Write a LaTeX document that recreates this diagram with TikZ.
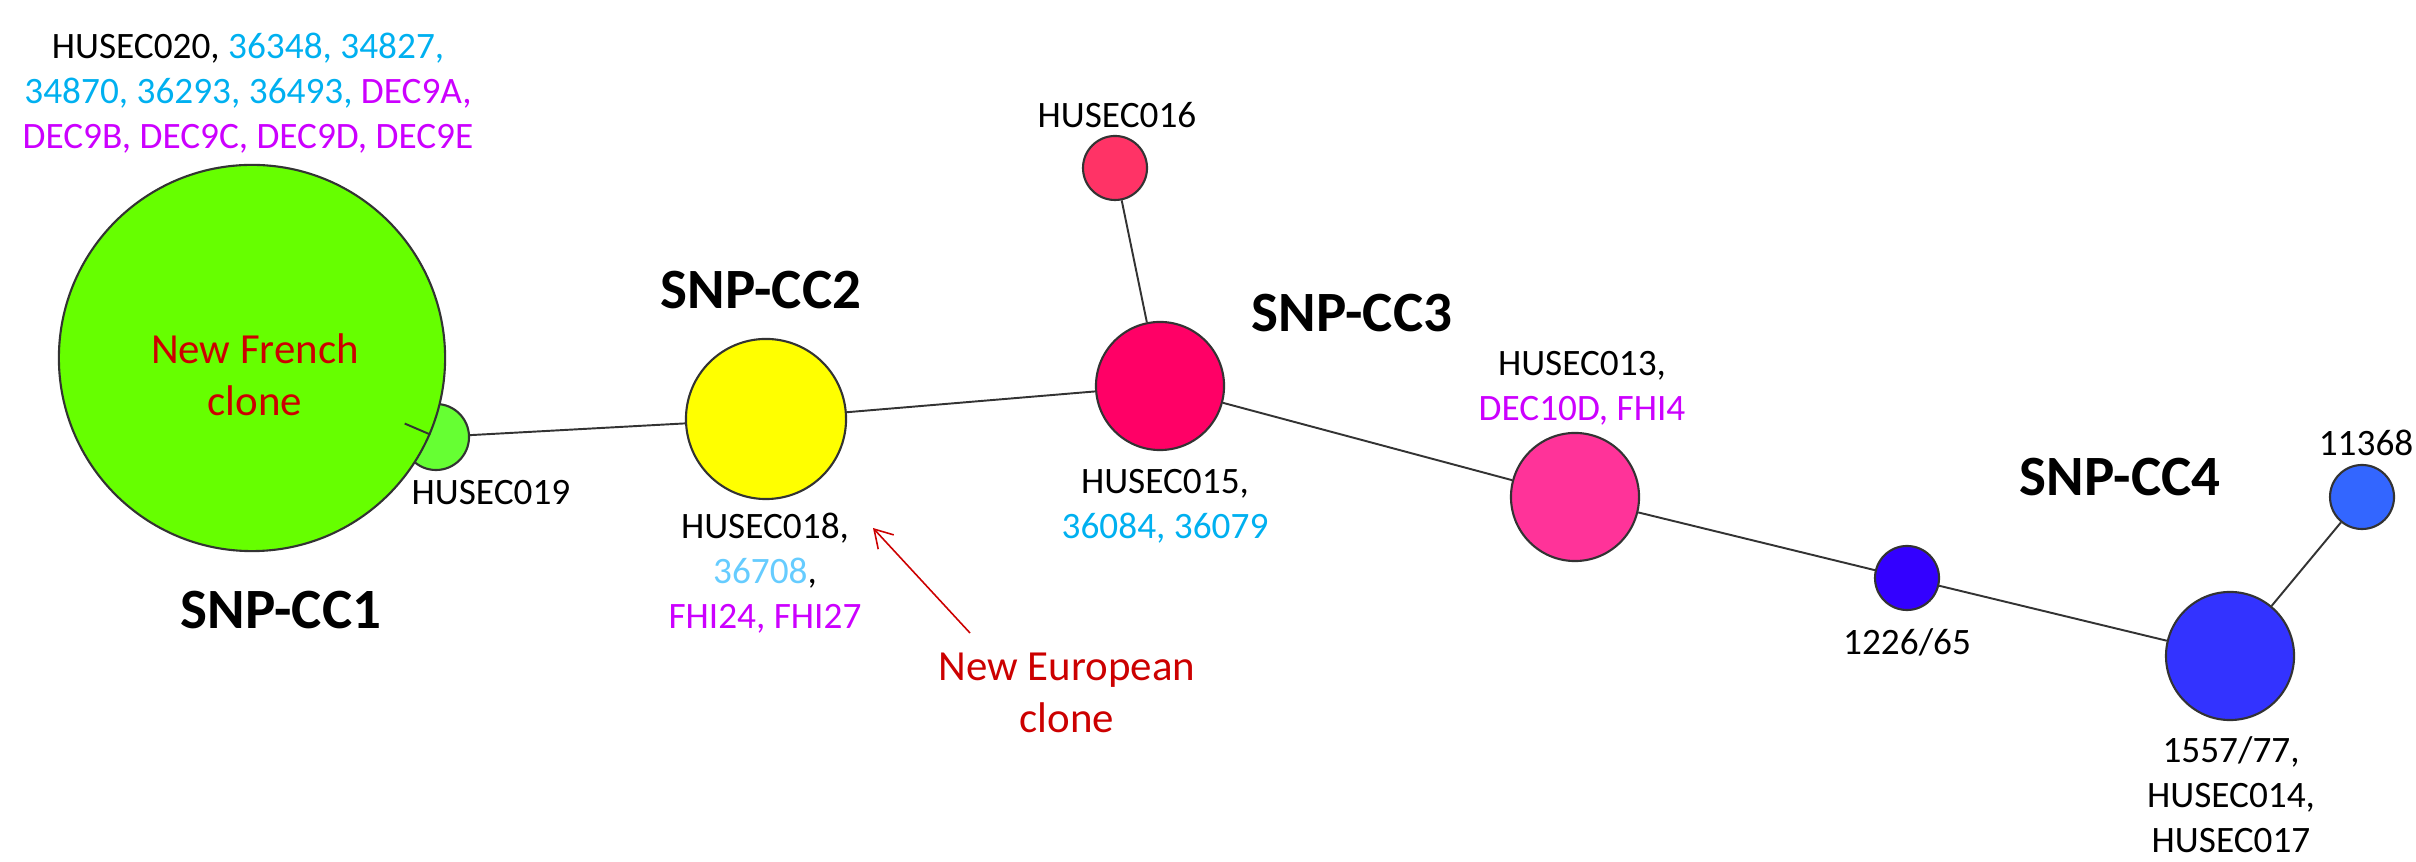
\documentclass[tikz,border=0pt]{standalone}
\usepackage{fontspec}
\setmainfont{Carlito}
\usepackage{xcolor}
\usetikzlibrary{arrows.meta,positioning}

\definecolor{cfrench}{HTML}{66FF00}
\definecolor{cnineteen}{HTML}{66FF33}
\definecolor{ceuro}{HTML}{FFFF00}
\definecolor{cfifteen}{HTML}{FF0066}
\definecolor{csixteen}{HTML}{FF3366}
\definecolor{cthirteen}{HTML}{FF3399}
\definecolor{cold}{HTML}{3300FF}
\definecolor{cfourteen}{HTML}{3333FF}
\definecolor{cmono}{HTML}{3366FF}
\definecolor{cblue}{HTML}{00B0F0}
\definecolor{clight}{HTML}{66CCFF}
\definecolor{cmag}{HTML}{CC00FF}
\definecolor{clonered}{HTML}{CC0000}

\begin{document}
\begin{tikzpicture}[x=0.01cm,y=-0.01cm,
    every node/.style={inner sep=0pt, align=center},
    isolate/.style={circle, draw=black!80, line width=0.6pt, minimum size=#1},
    lbl/.style={font=\fontsize{10.6}{12.8}\selectfont},
    ccname/.style={font=\fontsize{16.2}{19}\selectfont\bfseries},
    clone/.style={font=\fontsize{12.2}{14.8}\selectfont, text=clonered},
    link/.style={draw=black!80, line width=0.55pt},
    cloneptr/.style={draw=clonered, line width=0.45pt, -{Straight Barb[length=5pt,width=6pt]}}]
  \useasboundingbox (0,0) rectangle (2416,862);

  % minimum spanning tree, circles
  \node[isolate=0.66cm, fill=cnineteen] (h19) at (436,437) {};
  \node[isolate=3.86cm, fill=cfrench] (nfc) at (252,358) {};
  \node[isolate=1.60cm, fill=ceuro] (h18) at (766,419) {};
  \node[isolate=1.28cm, fill=cfifteen] (h15) at (1160,386) {};
  \node[isolate=0.64cm, fill=csixteen] (h16) at (1115,168) {};
  \node[isolate=1.28cm, fill=cthirteen] (h13) at (1575,497) {};
  \node[isolate=0.64cm, fill=cold] (h1226) at (1907,578) {};
  \node[isolate=1.28cm, fill=cfourteen] (h14) at (2230,656) {};
  \node[isolate=0.64cm, fill=cmono] (h11368) at (2362,497) {};

  % links
  \draw[link] (nfc) -- (h19);
  \draw[link] (h19) -- (h18);
  \draw[link] (h18) -- (h15);
  \draw[link] (h15) -- (h16);
  \draw[link] (h15) -- (h13);
  \draw[link] (h13) -- (h1226);
  \draw[link] (h1226) -- (h14);
  \draw[link] (h14) -- (h11368);

  % strain labels
  \node[lbl] (l20) at (248,93) {HUSEC020, \textcolor{cblue}{36348, 34827,}\\
    \textcolor{cblue}{34870, 36293, 36493,} \textcolor{cmag}{DEC9A,}\\
    \textcolor{cmag}{DEC9B, DEC9C, DEC9D, DEC9E}};
  \node[lbl] (l16) at (1117,115) {HUSEC016};
  \node[lbl] (l19) at (491,493) {HUSEC019};
  \node[lbl] (l18) at (765,573) {HUSEC018,\\ \textcolor{clight}{36708},\\ \textcolor{cmag}{FHI24, FHI27}};
  \node[lbl] (l15) at (1165,506) {HUSEC015,\\ \textcolor{cblue}{36084, 36079}};
  \node[lbl] (l13) at (1582,388) {HUSEC013,\\ \textcolor{cmag}{DEC10D, FHI4}};
  \node[lbl] (l1226) at (1907,642) {1226/65};
  \node[lbl] (l14) at (2231,795) {1557/77,\\ HUSEC014,\\ HUSEC017};
  \node[lbl] (l11368) at (2366,443) {11368};

  % clonal complexes
  \node[ccname] (cc1) at (281,610) {SNP-CC1};
  \node[ccname] (cc2) at (761,290) {SNP-CC2};
  \node[ccname] (cc3) at (1352,313) {SNP-CC3};
  \node[ccname] (cc4) at (2120,477) {SNP-CC4};

  % clones
  \node[clone] (frclone) at (255,375) {New French\\ clone};
  \node[clone] (euclone) at (1067,693) {New European\\ clone};
  \coordinate (eutail) at (970,633);
  \coordinate (eutip) at (873,528);
  \draw[cloneptr] (eutail) -- (eutip);
\end{tikzpicture}
\end{document}
